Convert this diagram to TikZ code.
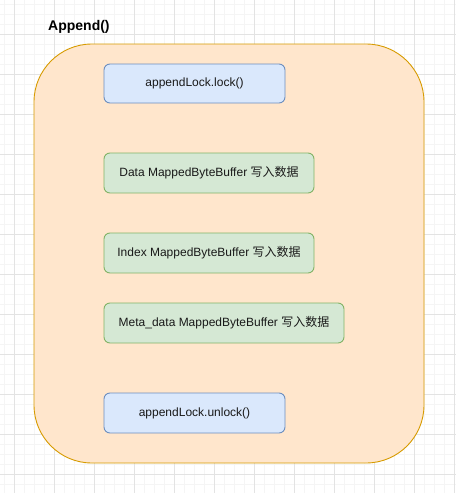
\documentclass[tikz,border=0pt]{standalone}
\usepackage{fontspec}
\setmainfont{Liberation Sans}
\newfontfamily\cjk{Noto Sans CJK SC}
\definecolor{gridmajor}{HTML}{E3E3E3}
\definecolor{gridminor}{HTML}{F5F5F5}
\definecolor{orfill}{HTML}{FFE6CC}
\definecolor{ordraw}{HTML}{D79B00}
\definecolor{blfill}{HTML}{DAE8FC}
\definecolor{bldraw}{HTML}{6C8EBF}
\definecolor{grfill}{HTML}{D5E8D4}
\definecolor{grdraw}{HTML}{82B366}
\tikzset{
  box/.style={rounded corners=6pt, line width=0.9pt, inner sep=0pt, align=center,
    font=\fontsize{12}{14}\selectfont, text=black!90},
  bluebox/.style={box, draw=bldraw, fill=blfill},
  greenbox/.style={box, draw=grdraw, fill=grfill}
}
\begin{document}
\begin{tikzpicture}[x=1pt,y=-1pt]
\useasboundingbox (0,0) rectangle (456,493);
\fill[white] (0,0) rectangle (456,493);
% grid
\foreach \i in {0,...,45} {
  \draw[gridminor, line width=0.8pt] ({4+10*\i},0) -- ({4+10*\i},493);
}
\foreach \i in {0,...,48} {
  \draw[gridminor, line width=0.8pt] (0,{4+10*\i}) -- (456,{4+10*\i});
}
\foreach \i in {0,...,11} {
  \draw[gridmajor, line width=0.8pt] ({14+40*\i},0) -- ({14+40*\i},493);
}
\foreach \i in {0,...,11} {
  \draw[gridmajor, line width=0.8pt] (0,{34+40*\i}) -- (456,{34+40*\i});
}
% container
\draw[ordraw, fill=orfill, line width=0.9pt, rounded corners=58pt] (34,44) rectangle (424,463);
\node[anchor=west, font=\fontsize{14}{16}\selectfont\bfseries, inner sep=0pt] (title) at (48,27) {Append()};
% boxes
\node[bluebox, minimum width=181pt, minimum height=39pt] (lock) at (194.5,83.5) {appendLock.lock()};
\node[greenbox, minimum width=210pt, minimum height=40pt] (data) at (209,173) {Data MappedByteBuffer {\cjk 写入数据}};
\node[greenbox, minimum width=210pt, minimum height=40pt] (index) at (209,253) {Index MappedByteBuffer {\cjk 写入数据}};
\node[greenbox, minimum width=240pt, minimum height=40pt] (meta) at (224,323) {Meta\_data MappedByteBuffer {\cjk 写入数据}};
\node[bluebox, minimum width=181pt, minimum height=40pt] (unlock) at (194.5,413) {appendLock.unlock()};
\end{tikzpicture}
\end{document}
